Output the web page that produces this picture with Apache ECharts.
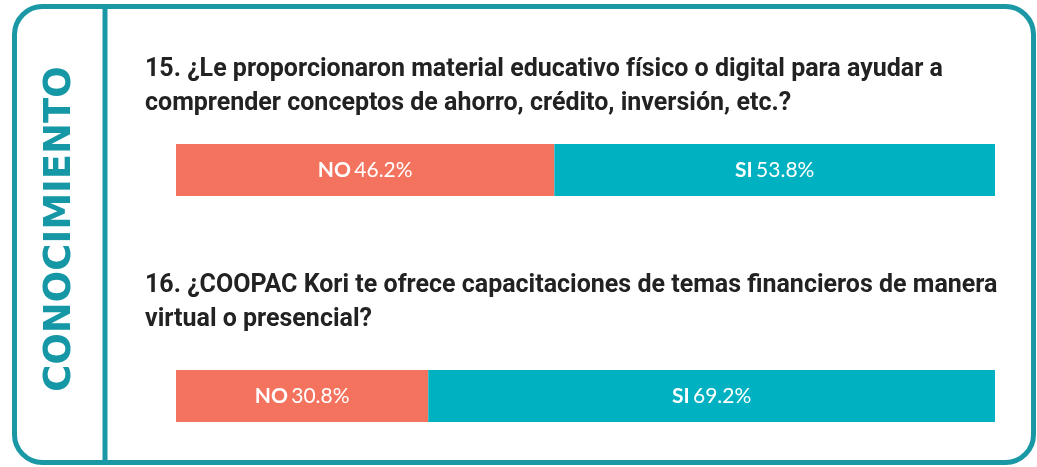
<!DOCTYPE html>
<html>
<head>
<meta charset="utf-8">
<script src="https://cdn.jsdelivr.net/npm/echarts@6/dist/echarts.min.js"></script>
<style>html,body{margin:0;padding:0;background:#fff;}#c{width:1037px;height:467px;}</style>
</head>
<body>
<div id="c"></div>
<script>
const sectionLabel = 'CONOCIMIENTO';
const questions = [
  '15. ¿Le proporcionaron material educativo físico o digital para ayudar a\ncomprender conceptos de ahorro, crédito, inversión, etc.?',
  '16. ¿COOPAC Kori te ofrece capacitaciones de temas financieros de manera\nvirtual o presencial?'
];
const answerNames = ['NO', 'SI'];
const noValues = [46.2, 30.8];
const siValues = [53.8, 69.2];

const chart = echarts.init(document.getElementById('c'));
const gridTops = [144, 370];
const titleTops = [48, 264];
const colors = ['#F4735F', '#00B2C1'];

const labelFmt = name => p => '{b|' + name + '} {v|' + p.value.toFixed(1) + '%}';
const labelRich = {
  b: {fontFamily: 'Lato', fontWeight: 'bold', fontSize: 21, color: '#fff'},
  v: {fontFamily: 'Lato', fontWeight: 'normal', fontSize: 21, color: '#fff'}
};

const grids = [], xAxes = [], yAxes = [], series = [], titles = [];
questions.forEach((q, i) => {
  grids.push({left: 176, right: 42, top: gridTops[i], height: 52});
  xAxes.push({type: 'value', gridIndex: i, min: 0, max: 100, show: false});
  yAxes.push({type: 'category', gridIndex: i, data: [q], show: false});
  titles.push({text: q, left: 140, top: titleTops[i], textStyle: {fontFamily: 'Roboto', fontWeight: 'bold', fontSize: 25, lineHeight: 34, color: '#222'}});
  [noValues[i], siValues[i]].forEach((v, j) => {
    series.push({
      type: 'bar', name: answerNames[j], xAxisIndex: i, yAxisIndex: i, stack: 's' + i,
      barWidth: '100%', data: [v], itemStyle: {color: colors[j]},
      label: {show: true, position: 'inside', formatter: labelFmt(answerNames[j]), rich: labelRich},
      silent: true, animation: false
    });
  });
});

chart.setOption({
  animation: false,
  title: titles,
  grid: grids, xAxis: xAxes, yAxis: yAxes, series: series,
  graphic: [
    {type: 'rect', shape: {x: 14.5, y: 6.5, width: 1019, height: 456, r: 28}, style: {fill: 'none', stroke: '#1a98a6', lineWidth: 5}, silent: true},
    {type: 'line', shape: {x1: 105, y1: 6.5, x2: 105, y2: 462.5}, style: {stroke: '#1a98a6', lineWidth: 5}, silent: true},
    {type: 'text', x: 60, y: 229, rotation: Math.PI / 2, style: {text: sectionLabel, fill: '#1697a5', font: 'bold 37px "DejaVu Sans"', textAlign: 'center', textVerticalAlign: 'middle'}, silent: true}
  ]
});
</script>
</body>
</html>
